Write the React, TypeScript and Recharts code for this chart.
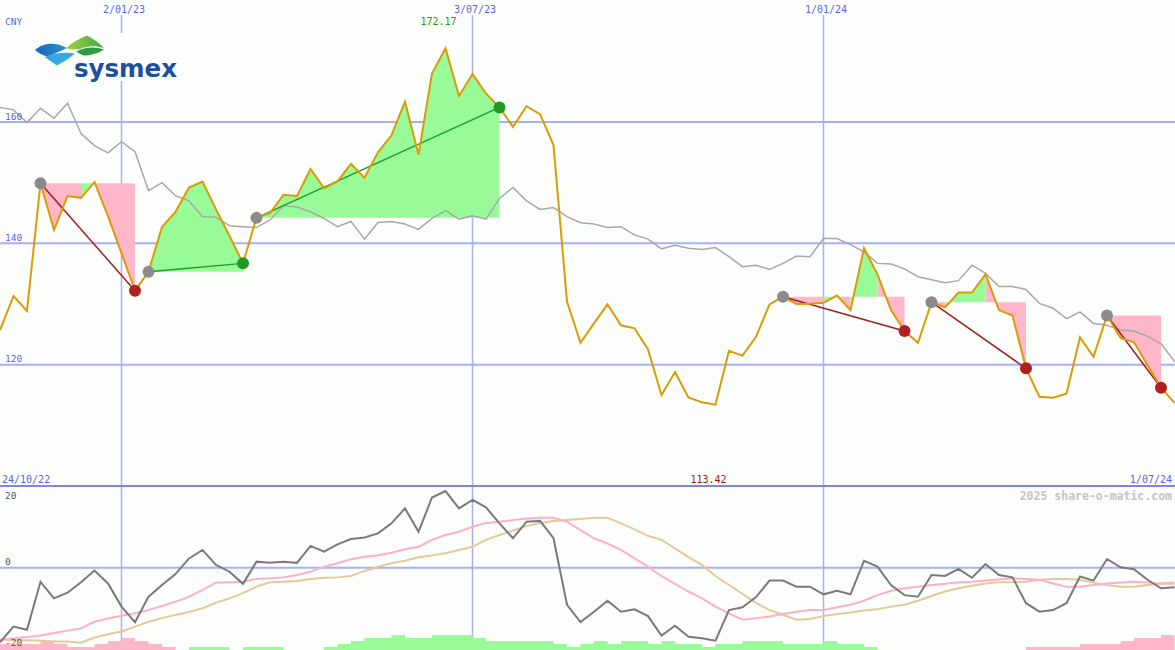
import React from "react";
import {
  ComposedChart,
  Line,
  Area,
  XAxis,
  YAxis,
  CartesianGrid,
  ReferenceDot,
} from "recharts";

const BG = "#fcfefc";
const GRID = "#a6b0f2";
const AXIS_BLUE = "#5b63ee";
const MONO = "'DejaVu Sans Mono', monospace";

// weekly closes (CNY)
const closes = [
  125.7, 131.3, 128.85, 149.9, 142.2, 147.8, 147.5, 150.1, 144.5, 138.4,
  132.2, 135.3, 142.7, 145.2, 149.2, 150.2, 145.6, 141.2, 136.7, 144.2,
  145.0, 148.0, 147.8, 152.25, 149.1, 150.2, 153.1, 150.8, 155.0, 157.8,
  163.35, 154.6, 168.0, 172.17, 164.3, 167.9, 164.7, 162.4, 159.2, 162.6,
  161.3, 156.2, 130.4, 123.6, 126.8, 129.95, 126.5, 126.0, 122.5, 115.0,
  118.8, 114.6, 113.8, 113.42, 122.3, 121.5, 124.6, 129.95, 131.2, 130.0,
  130.05, 130.2, 131.4, 129.0, 139.2, 134.9, 129.0, 125.55, 123.6, 130.3,
  129.45, 131.9, 131.9, 134.9, 129.0, 128.1, 119.4, 114.7, 114.55, 115.2,
  124.5, 121.3, 128.1, 124.4, 123.7, 119.95, 116.2, 113.7,
];

// moving average
const avgLine = [
  162.4, 162.0, 159.9, 162.25, 160.6, 163.1, 158.1, 156.1, 154.9, 156.75,
  155.1, 148.7, 150.0, 147.85, 147.0, 144.4, 144.3, 142.9, 142.75, 142.6,
  143.85, 146.2, 146.0, 145.2, 144.1, 142.75, 143.6, 140.7, 143.45, 143.6,
  143.2, 142.3, 144.1, 145.4, 144.0, 144.55, 144.0, 147.4, 149.2, 147.0,
  145.6, 145.9, 144.4, 143.4, 143.2, 142.6, 142.75, 141.4, 140.7, 139.1,
  139.7, 139.2, 139.0, 139.3, 137.8, 136.15, 136.4, 135.7, 136.7, 137.9,
  137.8, 140.8, 140.8, 139.8, 138.6, 136.7, 136.6, 135.8, 134.5, 134.0,
  133.5, 133.85, 136.4, 135.05, 132.9, 132.9, 132.4, 130.1, 129.3, 127.6,
  128.7, 126.8, 126.5, 125.7, 125.55, 124.7, 123.5, 120.5,
];

// oscillator panel
const oscMain = [
  -18.5, -14.6, -15.4, -3.5, -7.6, -6.2, -3.6, -0.7, -3.9, -9.65,
  -13.5, -7.2, -4.3, -1.6, 2.3, 4.4, 0.7, -1.0, -4.0, 1.5,
  1.2, 1.5, 1.2, 5.4, 4.0, 5.8, 7.1, 7.5, 8.5, 11.0,
  14.7, 8.9, 17.4, 19.0, 14.7, 16.8, 14.95, 11.0, 7.3, 11.4,
  11.6, 7.3, -9.2, -13.5, -10.9, -8.2, -10.9, -10.3, -12.0, -16.8,
  -14.4, -17.1, -17.5, -18.1, -10.5, -9.8, -7.3, -3.2, -3.2, -4.7,
  -4.7, -6.6, -5.7, -6.6, 1.7, 0.25, -4.3, -6.8, -7.2, -1.8,
  -2.05, -0.3, -2.5, 0.9, -1.8, -2.4, -8.8, -10.9, -10.5, -8.8,
  -2.2, -3.2, 2.15, 0.1, -0.4, -3.0, -5.1, -4.85,
];

const oscFast = [
  -17.9, -17.5, -17.2, -16.8, -16.2, -15.6, -15.0, -13.4, -12.6, -11.9,
  -11.3, -10.5, -9.5, -8.4, -7.2, -5.5, -3.7, -3.6, -3.5, -2.8,
  -2.6, -2.4, -1.8, -1.0, 0.25, 1.1, 2.1, 2.7, 3.1, 3.7,
  4.55, 5.2, 6.9, 8.1, 8.9, 10.15, 11.1, 11.4, 11.8, 12.2,
  12.4, 12.4, 11.4, 9.3, 7.3, 6.0, 4.4, 2.3, 0.25, -2.05,
  -4.0, -5.9, -7.6, -9.65, -11.3, -12.9, -12.5, -12.1, -11.5, -10.9,
  -10.5, -10.5, -9.8, -9.2, -8.2, -6.8, -5.7, -5.1, -4.7, -4.3,
  -4.0, -3.6, -3.5, -3.2, -2.9, -2.6, -2.8, -3.0, -3.9, -4.7,
  -4.7, -4.3, -3.9, -3.7, -3.5, -3.7, -4.0, -4.0,
];

const oscSlow = [
  -17.8, -17.9, -18.0, -18.1, -18.3, -18.3, -18.6, -17.3, -16.5, -15.8,
  -14.6, -13.4, -12.5, -11.7, -11.0, -10.05, -8.7, -7.6, -6.3, -4.7,
  -3.6, -3.5, -3.3, -2.8, -2.5, -2.4, -2.05, -0.8, 0.25, 1.1,
  1.7, 2.6, 3.0, 3.6, 4.4, 5.2, 6.9, 8.1, 9.2, 10.3,
  11.1, 11.6, 11.8, 12.05, 12.4, 12.4, 11.0, 9.5, 7.9, 6.9,
  4.8, 2.6, 0.7, -2.05, -4.3, -6.5, -8.7, -10.5, -11.7, -12.9,
  -12.7, -12.0, -11.5, -11.1, -10.6, -10.3, -9.65, -9.2, -8.2, -7.0,
  -5.9, -5.1, -4.5, -3.9, -3.6, -3.6, -3.5, -3.0, -2.8, -2.8,
  -3.0, -3.7, -4.3, -4.7, -4.7, -4.3, -3.9, -3.7,
];

// momentum histogram, signed levels (held until the next week)
const histLevels = [
  -2, -2, -2, -3, -2, -1, -1, -2, -3, -4,
  -3, -2, -1, 0, 1, 1, 1, 0, 1, 1,
  1, 0, 0, 0, 1, 2, 3, 4, 4, 5,
  4, 4, 5, 5, 5, 4, 3, 3, 3, 3,
  3, 2, 1, 2, 3, 2, 3, 3, 2, 3,
  2, 2, 1, 2, 2, 3, 3, 3, 2, 2,
  2, 3, 2, 2, 1, 0, 0, 0, 0, 0,
  0, 0, 0, 0, 0, 0, -1, -1, -1, -1,
  -2, -2, -2, -3, -4, -4, -5, -5,
];

// swing moves: [start week, end week]
const swings = [
  [3, 10],
  [11, 18],
  [19, 37],
  [58, 67],
  [69, 76],
  [82, 86],
];

const dateTicks = [9, 35, 61];
const dateLabels = ["2/01/23", "3/07/23", "1/01/24"];
const priceTicks = [120, 140, 160];
const oscTicks = [-20, 0, 20];
const firstDate = "24/10/22";
const lastDate = "1/07/24";
const currency = "CNY";

const X_DOMAIN = [0, 1175 / 13.5];
const PRICE_DOMAIN = [99.844, 177.635];
const OSC_DOMAIN = [-20.4, 20];
const HIST_DOMAIN = [0, 54.3];

const UP_FILL = "#98fb98";
const DOWN_FILL = "#ffb6c8";

const rows: Record<string, any>[] = closes.map((c, i) => ({
  i,
  close: c,
  avg: avgLine[i],
  osc: oscMain[i],
  fast: oscFast[i],
  slow: oscSlow[i],
  histUp: Math.max(histLevels[i], 0),
  histDown: Math.max(-histLevels[i], 0),
}));

// shaded runs between the swing's starting level and the close
const runs: { key: string; up: boolean }[] = [];
swings.forEach(([s, e], n) => {
  const base = closes[s];
  rows[s][`trend${n}`] = closes[s];
  rows[e][`trend${n}`] = closes[e];
  const push = (from: number, to: number, up: boolean) => {
    const key = `fill${runs.length}`;
    for (let k = from; k <= to; k++) rows[k][key] = [base, closes[k]];
    runs.push({ key, up });
  };
  let from = s;
  let up = closes[s + 1] >= base;
  for (let j = s + 1; j < e; j++) {
    const u = closes[j + 1] >= base;
    if (u !== up) {
      push(from, j, up);
      from = j;
      up = u;
    }
  }
  push(from, e, up);
});

const maxIdx = closes.indexOf(Math.max(...closes));
const minIdx = closes.indexOf(Math.min(...closes));

const DateTick = (props: any) => {
  const k = dateTicks.indexOf(props.payload.value);
  return (
    <text x={props.x + 2.5} y={13} textAnchor="middle" fontFamily={MONO} fontSize={10} fill={AXIS_BLUE}>
      {dateLabels[k]}
    </text>
  );
};

const PriceTick = (props: any) => (
  <text x={5} y={props.y - 2.5} fontFamily={MONO} fontSize={9.5} fill={AXIS_BLUE}>
    {props.payload.value}
  </text>
);

const OscTick = (props: any) => (
  <text
    x={5}
    y={Math.min(Math.max(props.y - 2.5, 12.3), 159)}
    fontFamily={MONO}
    fontSize={9.5}
    fill="#555"
  >
    {props.payload.value}
  </text>
);

const extremeLabel = (text: string, y: number, color: string) => (props: any) => {
  const vb = props.viewBox || {};
  const cx = (vb.x ?? 0) + (vb.width ?? 0) / 2;
  return (
    <text x={cx - 7} y={y} textAnchor="middle" fontFamily={MONO} fontSize={10} fill={color}>
      {text}
    </text>
  );
};

const swingDot = (start: number, color: string) => (p: any) => {
  if (p.cy == null || p.value == null) return <g key={`d${p.index}`} />;
  const isStart = p.payload && p.payload.i === start;
  return <circle key={`d${p.index}`} cx={p.cx} cy={p.cy} r={6} fill={isStart ? "#8a8a8a" : color} />;
};

function Logo() {
  return (
    <g>
      <rect x={33} y={33} width={148} height={48} fill={BG} />
      <defs>
        <linearGradient id="lgGreen" x1="0" y1="0" x2="1" y2="0">
          <stop offset="0" stopColor="#a8d040" />
          <stop offset="1" stopColor="#3aa64a" />
        </linearGradient>
        <linearGradient id="lgBlue" x1="0" y1="0" x2="1" y2="0">
          <stop offset="0" stopColor="#1768b8" />
          <stop offset="1" stopColor="#2a8fd4" />
        </linearGradient>
      </defs>
      <path d="M35,50 C42,43 55,41 67,48 C60,51 53,55 47,56.5 C42,55 38,53 35,50 Z" fill="url(#lgBlue)" />
      <path d="M45,57 C55,53 65,52 75,53.5 C70,58 63,62 57,65.5 C52,62 48,60 45,57 Z" fill="#35a8e4" />
      <path d="M66,48 C73,42 80,38 87,35.5 C94,39 99,43 104,48 C96,45.5 88,45.5 80,49 C75,50 70,49.5 66,48 Z" fill="url(#lgGreen)" />
      <path d="M76,51.5 C85,47 95,46 104,49.5 C98,53.5 90,55.5 84,55.5 C81,54.5 78,53 76,51.5 Z" fill="#2d9a44" />
      <text
        x={74}
        y={77}
        fontFamily="'DejaVu Sans', sans-serif"
        fontWeight="bold"
        fontSize={24}
        fill="#1d4f9c"
        textLength={103}
        lengthAdjust="spacingAndGlyphs"
      >
        sysmex
      </text>
    </g>
  );
}

export default function App() {
  return (
    <div style={{ position: "relative", width: 1175, height: 650, background: BG, overflow: "hidden" }}>
      <style>{`body{margin:0}`}</style>
      <div style={{ position: "absolute", left: 0, top: 0 }}>
        <ComposedChart width={1175} height={487} data={rows} margin={{ top: 0, right: 0, bottom: 0, left: 0 }}>
          <CartesianGrid vertical={false} horizontalValues={priceTicks} stroke={GRID} strokeWidth={2} />
          <CartesianGrid horizontal={false} verticalValues={dateTicks} stroke={GRID} strokeWidth={1.5} />
          <XAxis
            type="number"
            dataKey="i"
            domain={X_DOMAIN}
            orientation="top"
            height={15}
            ticks={dateTicks}
            interval={0}
            axisLine={false}
            tickLine={false}
            tick={DateTick}
            allowDataOverflow
          />
          <YAxis
            type="number"
            domain={PRICE_DOMAIN}
            ticks={priceTicks}
            interval={0}
            width={40}
            mirror
            axisLine={false}
            tickLine={false}
            tick={PriceTick}
            allowDataOverflow
          />
          {runs.map((r) => (
            <Area
              key={r.key}
              dataKey={r.key}
              type="linear"
              stroke="none"
              fill={r.up ? UP_FILL : DOWN_FILL}
              fillOpacity={1}
              dot={false}
              activeDot={false}
              isAnimationActive={false}
            />
          ))}
          <Line
            dataKey="avg"
            type="linear"
            stroke="#a8a8a8"
            strokeWidth={1.5}
            dot={false}
            activeDot={false}
            isAnimationActive={false}
          />
          {swings.map(([s, e], n) => {
            const up = closes[e] > closes[s];
            return (
              <Line
                key={`trend${n}`}
                dataKey={`trend${n}`}
                type="linear"
                connectNulls
                stroke={up ? "#1f9f1f" : "#a31d1d"}
                strokeWidth={1.5}
                dot={swingDot(s, up ? "#229a22" : "#b02020")}
                activeDot={false}
                isAnimationActive={false}
              />
            );
          })}
          <Line
            dataKey="close"
            type="linear"
            stroke="#dc9a06"
            strokeWidth={2}
            dot={false}
            activeDot={false}
            isAnimationActive={false}
          />
          <ReferenceDot
            x={maxIdx}
            y={closes[maxIdx]}
            r={1}
            fill="none"
            stroke="none"
            label={extremeLabel(closes[maxIdx].toFixed(2), 25, "#229a22")}
          />
          <ReferenceDot
            x={minIdx}
            y={closes[minIdx]}
            r={1}
            fill="none"
            stroke="none"
            label={extremeLabel(closes[minIdx].toFixed(2), 483, "#a01818")}
          />
        </ComposedChart>
      </div>
      <div style={{ position: "absolute", left: 0, top: 487 }}>
        <ComposedChart width={1175} height={163} data={rows} margin={{ top: 0, right: 0, bottom: 0, left: 0 }}>
          <CartesianGrid vertical={false} horizontalValues={[0]} stroke={GRID} strokeWidth={2} />
          <CartesianGrid horizontal={false} verticalValues={dateTicks} stroke={GRID} strokeWidth={1.5} />
          <XAxis type="number" dataKey="i" domain={X_DOMAIN} hide allowDataOverflow />
          <YAxis
            type="number"
            domain={OSC_DOMAIN}
            ticks={oscTicks}
            interval={0}
            width={40}
            mirror
            axisLine={false}
            tickLine={false}
            tick={OscTick}
            allowDataOverflow
          />
          <YAxis yAxisId="h" type="number" domain={HIST_DOMAIN} hide allowDataOverflow />
          <Area
            yAxisId="h"
            dataKey="histDown"
            type="stepAfter"
            stroke="none"
            fill={DOWN_FILL}
            fillOpacity={1}
            dot={false}
            activeDot={false}
            isAnimationActive={false}
          />
          <Area
            yAxisId="h"
            dataKey="histUp"
            type="stepAfter"
            stroke="none"
            fill={UP_FILL}
            fillOpacity={1}
            dot={false}
            activeDot={false}
            isAnimationActive={false}
          />
          <Line dataKey="slow" type="linear" stroke="#e3ca9a" strokeWidth={2} dot={false} activeDot={false} isAnimationActive={false} />
          <Line dataKey="fast" type="linear" stroke="#ffb0c8" strokeWidth={2} dot={false} activeDot={false} isAnimationActive={false} />
          <Line dataKey="osc" type="linear" stroke="#7a7a7a" strokeWidth={2} dot={false} activeDot={false} isAnimationActive={false} />
        </ComposedChart>
      </div>
      <div style={{ position: "absolute", left: 0, top: 485.3, width: 1175, height: 2, background: "#7b84f0" }} />
      <svg width={1175} height={650} style={{ position: "absolute", left: 0, top: 0, pointerEvents: "none" }}>
        <Logo />
        <text x={5} y={25} fontFamily={MONO} fontSize={9.5} fill={AXIS_BLUE}>
          {currency}
        </text>
        <text x={2} y={483} fontFamily={MONO} fontSize={10} fill={AXIS_BLUE}>
          {firstDate}
        </text>
        <text x={1172} y={483} textAnchor="end" fontFamily={MONO} fontSize={10} fill={AXIS_BLUE}>
          {lastDate}
        </text>
        <text x={1172} y={500} textAnchor="end" fontFamily={MONO} fontWeight="bold" fontSize={11.5} fill="#c4c4c4">
          2025 share-o-matic.com
        </text>
      </svg>
    </div>
  );
}
